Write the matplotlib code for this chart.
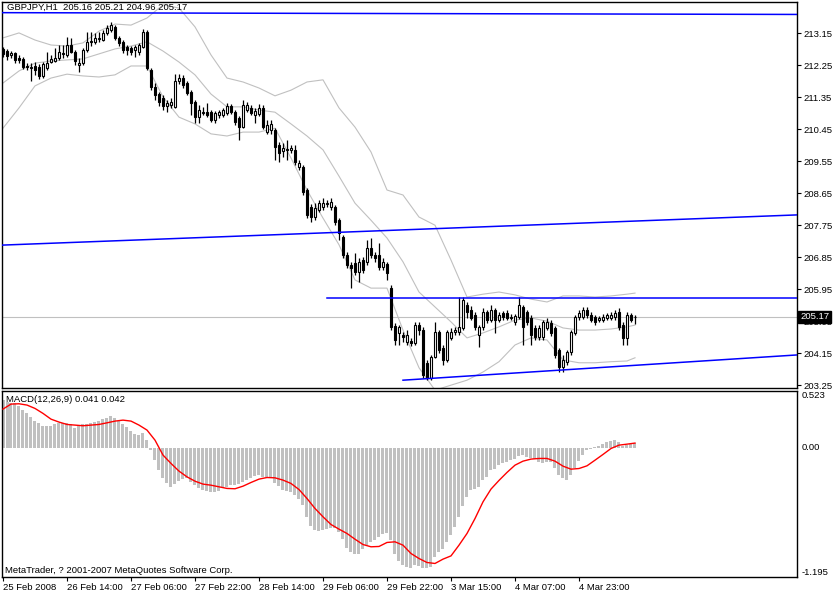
import matplotlib
matplotlib.use("Agg")
import matplotlib.pyplot as plt
import matplotlib.transforms as mtransforms
from matplotlib import font_manager
import numpy as np

# MetaTrader text is narrow; use a narrow face when there is one
names = {f.name for f in font_manager.fontManager.ttflist}
if 'Liberation Sans Narrow' in names:
    plt.rcParams['font.family'] = ['Liberation Sans Narrow', 'DejaVu Sans']
    FS = 8.0
else:
    plt.rcParams['font.family'] = ['Liberation Sans', 'DejaVu Sans']
    FS = 6.8

# hourly GBPJPY bars
opens = [212.71, 212.65, 212.54, 212.60, 212.46, 212.43, 212.23, 212.17, 212.23, 212.20,
         211.95, 212.17, 212.34, 212.37, 212.46, 212.60, 212.54, 212.82, 212.62, 212.26,
         212.31, 212.68, 212.91, 212.91, 212.99, 212.96, 213.16, 213.24, 213.33, 213.02,
         212.91, 212.76, 212.74, 212.68, 212.62, 212.76, 213.19, 212.12, 211.64, 211.44,
         211.33, 211.10, 211.13, 211.08, 211.81, 211.89, 211.75, 211.50, 211.22, 210.79,
         210.91, 210.93, 210.93, 210.71, 210.85, 210.85, 210.91, 211.10, 210.93, 210.77,
         210.51, 210.99, 211.05, 210.85, 210.88, 211.05, 210.37, 210.43, 210.43, 210.01,
         209.84, 209.87, 209.87, 209.87, 209.39, 209.39, 208.74, 208.26, 207.98, 208.18,
         208.26, 208.35, 208.26, 208.26, 207.90, 207.42, 206.91, 206.63, 206.69, 206.43,
         206.77, 206.71, 207.11, 206.91, 206.91, 206.57, 206.66, 205.98, 204.91, 204.71,
         204.66, 204.46, 204.49, 204.43, 204.94, 204.80, 203.87, 203.45, 204.04, 204.74,
         204.29, 203.95, 204.57, 204.74, 204.74, 204.86, 205.50, 205.36, 205.22, 204.66,
         204.88, 205.31, 205.08, 205.36, 205.08, 205.28, 205.28, 205.14, 205.02, 205.17,
         205.45, 205.31, 205.14, 204.86, 204.60, 204.60, 204.86, 205.00, 204.86, 204.24,
         203.76, 203.90, 204.18, 204.71, 205.17, 205.17, 205.36, 205.22, 205.17, 205.08,
         205.08, 205.14, 205.14, 205.17, 205.31, 204.94, 204.57, 205.22, 205.16]
closes = [212.57, 212.51, 212.60, 212.40, 212.40, 212.20, 212.20, 212.20, 212.12, 211.95,
          212.29, 212.31, 212.43, 212.46, 212.62, 212.57, 212.82, 212.62, 212.37, 212.31,
          212.68, 212.91, 212.93, 213.02, 213.02, 213.16, 213.30, 213.38, 213.02, 212.88,
          212.68, 212.68, 212.62, 212.76, 212.82, 213.19, 212.17, 211.64, 211.41, 211.22,
          211.10, 211.19, 211.22, 211.81, 211.89, 211.70, 211.47, 211.19, 210.79, 210.99,
          210.93, 210.85, 210.71, 210.91, 210.93, 210.99, 211.10, 210.93, 210.65, 210.51,
          211.13, 211.13, 210.91, 210.96, 211.05, 210.51, 210.57, 210.60, 209.95, 209.78,
          209.92, 209.89, 209.92, 209.53, 209.50, 208.68, 208.04, 207.98, 208.23, 208.37,
          208.37, 208.37, 208.40, 207.84, 207.53, 206.91, 206.63, 206.54, 206.43, 206.71,
          206.49, 207.11, 206.91, 206.83, 206.57, 206.71, 206.40, 204.88, 204.52, 204.88,
          204.60, 204.66, 204.43, 204.94, 204.80, 203.53, 203.45, 204.04, 204.74, 204.24,
          203.95, 204.74, 204.74, 204.80, 204.88, 205.64, 205.31, 205.14, 204.88, 204.88,
          205.31, 205.08, 205.36, 205.08, 205.22, 205.17, 205.14, 205.17, 205.19, 205.50,
          204.88, 205.02, 204.66, 204.60, 204.86, 205.02, 205.02, 204.71, 204.10, 203.76,
          203.95, 204.18, 204.74, 205.17, 205.28, 205.36, 205.22, 205.08, 205.02, 205.14,
          205.17, 205.22, 205.22, 205.28, 204.88, 204.57, 205.22, 205.08, 205.17]
highs = [212.76, 212.71, 212.65, 212.62, 212.54, 212.48, 212.31, 212.31, 212.34, 212.29,
         212.34, 212.62, 212.54, 212.74, 212.82, 212.82, 213.05, 213.02, 212.68, 212.46,
         212.74, 213.19, 213.19, 213.16, 213.19, 213.24, 213.38, 213.47, 213.38, 213.07,
         212.96, 212.82, 212.79, 212.82, 212.88, 213.27, 213.24, 212.17, 211.75, 211.50,
         211.41, 211.27, 211.33, 212.00, 212.00, 211.98, 211.81, 211.55, 211.27, 211.13,
         211.08, 211.19, 210.99, 210.96, 210.99, 211.05, 211.19, 211.16, 210.99, 210.82,
         211.27, 211.22, 211.13, 211.05, 211.16, 211.13, 210.71, 210.71, 210.48, 210.09,
         210.06, 210.15, 210.01, 210.01, 209.58, 209.44, 208.80, 208.35, 208.37, 208.46,
         208.51, 208.46, 208.51, 208.32, 207.95, 207.47, 206.99, 206.71, 206.97, 206.83,
         206.85, 207.33, 207.39, 206.99, 207.25, 206.83, 206.71, 206.07, 204.99, 204.94,
         204.74, 204.80, 204.57, 205.02, 205.02, 204.88, 203.95, 204.10, 205.02, 204.80,
         204.38, 204.80, 204.86, 204.88, 205.73, 205.73, 205.59, 205.47, 205.31, 204.94,
         205.42, 205.36, 205.50, 205.42, 205.31, 205.33, 205.36, 205.25, 205.25, 205.73,
         205.50, 205.36, 205.22, 204.94, 204.94, 205.08, 205.14, 205.08, 204.91, 204.29,
         204.10, 204.24, 204.80, 205.22, 205.36, 205.45, 205.45, 205.31, 205.22, 205.19,
         205.25, 205.28, 205.31, 205.36, 205.42, 205.02, 205.31, 205.28, 205.21]
lows = [212.48, 212.40, 212.46, 212.31, 212.31, 212.15, 212.12, 211.81, 211.98, 211.86,
        211.89, 212.12, 212.31, 212.34, 212.40, 212.46, 212.48, 212.60, 212.26, 212.06,
        212.26, 212.62, 212.79, 212.85, 212.91, 212.93, 213.10, 213.19, 212.96, 212.79,
        212.60, 212.54, 212.54, 212.48, 212.54, 212.74, 212.12, 211.55, 211.27, 211.10,
        210.99, 210.93, 211.05, 211.05, 211.72, 211.61, 211.41, 210.85, 210.62, 210.62,
        210.85, 210.79, 210.65, 210.62, 210.77, 210.79, 210.85, 210.88, 210.57, 210.15,
        210.48, 210.93, 210.85, 210.62, 210.82, 210.46, 210.32, 210.32, 209.58, 209.53,
        209.67, 209.58, 209.78, 209.44, 209.30, 208.60, 207.95, 207.84, 207.90, 208.12,
        208.18, 208.26, 208.18, 207.75, 207.33, 206.83, 206.54, 205.98, 206.35, 206.15,
        206.40, 206.63, 206.83, 206.71, 206.49, 206.49, 206.21, 204.80, 204.38, 204.38,
        204.46, 204.38, 204.35, 204.38, 204.66, 203.45, 203.39, 203.39, 204.01, 204.15,
        203.81, 203.90, 204.52, 204.66, 204.66, 204.80, 205.14, 205.08, 204.80, 204.32,
        204.80, 205.00, 205.02, 204.71, 205.02, 205.08, 205.08, 205.08, 204.94, 205.11,
        204.38, 204.94, 204.38, 204.52, 204.52, 204.52, 204.80, 204.63, 204.01, 203.62,
        203.62, 203.81, 204.10, 204.66, 205.08, 205.11, 205.14, 205.02, 204.94, 205.02,
        205.02, 205.08, 205.08, 205.08, 204.80, 204.38, 204.38, 205.02, 204.96]

# Bollinger bands, sampled every 4 bars
band_idx = list(range(0, 157, 4)) + [158]
bb_upper = [213.02, 213.16, 212.96, 212.82, 212.79, 212.88, 213.21, 213.41, 213.38, 213.58,
            213.95, 213.86, 213.33, 212.54, 211.89, 211.78, 211.61, 211.39, 211.55, 211.78,
            211.84, 211.05, 210.51, 209.81, 208.74, 208.60, 207.98, 207.75, 206.77, 205.73,
            205.81, 205.87, 205.79, 205.67, 205.59, 205.76, 205.76, 205.73, 205.76, 205.81, 205.84]
bb_middle = [211.75, 212.09, 212.31, 212.37, 212.40, 212.43, 212.57, 212.71, 212.79, 212.91,
             212.65, 212.34, 211.98, 211.44, 211.08, 211.08, 210.99, 210.93, 210.60, 210.26,
             209.87, 209.13, 208.37, 207.89, 207.39, 206.72, 205.87, 205.45, 205.03, 204.58,
             204.72, 204.89, 205.08, 205.14, 205.05, 204.86, 204.80, 204.80, 204.83, 204.89, 204.94]
bb_lower = [210.48, 211.05, 211.67, 211.89, 212.00, 211.95, 211.92, 211.98, 212.23, 212.23,
            211.36, 210.79, 210.60, 210.32, 210.26, 210.37, 210.37, 210.48, 209.64, 208.74,
            207.95, 207.20, 206.21, 205.98, 205.98, 204.80, 203.74, 203.11, 203.25, 203.39,
            203.62, 203.91, 204.38, 204.58, 204.52, 203.96, 203.88, 203.88, 203.91, 203.93, 204.02]

# MACD(12,26,9)
macd_hist = [0.439, 0.424, 0.408, 0.408, 0.387, 0.347, 0.316, 0.285, 0.245, 0.223,
             0.202, 0.202, 0.202, 0.214, 0.223, 0.229, 0.223, 0.214, 0.183, 0.202,
             0.214, 0.217, 0.229, 0.239, 0.245, 0.260, 0.276, 0.294, 0.270, 0.248,
             0.217, 0.186, 0.152, 0.122, 0.116, 0.131, 0.069, -0.023, -0.116, -0.208,
             -0.285, -0.325, -0.362, -0.340, -0.310, -0.294, -0.285, -0.316, -0.347, -0.371,
             -0.387, -0.402, -0.408, -0.408, -0.402, -0.377, -0.362, -0.347, -0.347, -0.334,
             -0.316, -0.297, -0.279, -0.263, -0.254, -0.270, -0.273, -0.285, -0.331, -0.353,
             -0.393, -0.402, -0.414, -0.439, -0.470, -0.531, -0.639, -0.722, -0.762, -0.768,
             -0.762, -0.753, -0.741, -0.747, -0.778, -0.846, -0.926, -0.963, -0.987, -0.978,
             -0.932, -0.895, -0.870, -0.849, -0.824, -0.799, -0.787, -0.855, -0.978, -1.049,
             -1.080, -1.101, -1.110, -1.086, -1.092, -1.110, -1.116, -1.101, -1.009, -0.963,
             -0.932, -0.870, -0.809, -0.732, -0.639, -0.537, -0.454, -0.393, -0.383, -0.362,
             -0.300, -0.270, -0.208, -0.193, -0.162, -0.146, -0.131, -0.116, -0.106, -0.075,
             -0.069, -0.085, -0.094, -0.106, -0.137, -0.140, -0.131, -0.131, -0.186, -0.254,
             -0.285, -0.300, -0.254, -0.186, -0.125, -0.069, -0.023, -0.014, 0.005, 0.014,
             0.029, 0.048, 0.060, 0.069, 0.048, 0.017, 0.023, 0.029, 0.041]
# signal line, sampled every 2 bars
signal_idx = list(range(0, 159, 2))
macd_signal = [0.356, 0.402, 0.405, 0.393, 0.362, 0.316, 0.263, 0.236, 0.214, 0.208,
               0.202, 0.208, 0.214, 0.229, 0.245, 0.254, 0.245, 0.208, 0.162, 0.069,
               -0.069, -0.146, -0.217, -0.270, -0.310, -0.337, -0.347, -0.362, -0.377, -0.380,
               -0.356, -0.322, -0.291, -0.276, -0.279, -0.300, -0.331, -0.387, -0.470, -0.562,
               -0.639, -0.710, -0.753, -0.793, -0.846, -0.895, -0.916, -0.913, -0.876, -0.870,
               -0.901, -0.978, -1.024, -1.061, -1.070, -1.030, -1.000, -0.901, -0.793, -0.655,
               -0.501, -0.383, -0.303, -0.229, -0.162, -0.125, -0.106, -0.100, -0.100, -0.125,
               -0.171, -0.199, -0.193, -0.168, -0.116, -0.063, -0.008, 0.023, 0.032, 0.042]

# trend lines drawn on the chart: (bar, price) -> (bar, price)
trend_lines = [
    ((-0.25, 213.73), (198.5, 213.68)),
    ((-0.25, 207.19), (198.5, 208.04)),
    ((81, 205.69), (198.5, 205.69)),
    ((100, 203.39), (198.5, 204.10)),
]
last_price = 205.17

price_ticks = [213.15, 212.25, 211.35, 210.45, 209.55, 208.65, 207.75, 206.85, 205.95, 205.05, 204.15, 203.25]
date_pos = [0, 16, 32, 48, 64, 80, 96, 112, 128, 144]
date_labels = ["25 Feb 2008", "26 Feb 14:00", "27 Feb 06:00", "27 Feb 22:00", "28 Feb 14:00",
               "29 Feb 06:00", "29 Feb 22:00", "3 Mar 15:00", "4 Mar 07:00", "4 Mar 23:00"]

W, H = 835, 594
fig = plt.figure(figsize=(W / 100, H / 100), dpi=100)
ax = fig.add_axes([2 / W, 1 - 388 / H, 795 / W, 386 / H])
ax2 = fig.add_axes([2 / W, 1 - 577 / H, 795 / W, 186 / H])

idx = np.arange(len(closes))
o = np.array(opens)
c = np.array(closes)
hi = np.array(highs)
lo = np.array(lows)
up = c >= o
body_bottom = np.minimum(o, c)
body_h = np.abs(c - o)

gray = '#c0c0c0'
ax.plot(band_idx, bb_upper, color=gray, lw=0.8, zorder=1)
ax.plot(band_idx, bb_middle, color=gray, lw=0.8, zorder=1)
ax.plot(band_idx, bb_lower, color=gray, lw=0.8, zorder=1)
ax.axhline(last_price, color=gray, lw=0.8, zorder=1)

ax.vlines(idx, lo, hi, color='black', lw=0.9, zorder=3)
ax.bar(idx[up], body_h[up], bottom=body_bottom[up], width=0.7,
       facecolor='white', edgecolor='black', linewidth=0.8, zorder=4)
ax.bar(idx[~up], body_h[~up], bottom=body_bottom[~up], width=0.7,
       facecolor='black', edgecolor='black', linewidth=0.8, zorder=4)

for (x0, y0), (x1, y1) in trend_lines:
    ax.plot([x0, x1], [y0, y1], color='#0000ff', lw=1.1, zorder=5)

ax.set_xlim(-0.25, 198.5)
ax.set_ylim(203.17, 214.03)
ax.yaxis.tick_right()
ax.set_yticks(price_ticks)
ax.set_yticklabels([f"{t:.2f}" for t in price_ticks])
ax.tick_params(axis='y', direction='out', length=3, pad=2, labelsize=FS, width=0.8)
ax.set_xticks([])

trans = mtransforms.blended_transform_factory(ax.transAxes, ax.transData)
ax.text(1.004, last_price, f"{last_price:.2f}", transform=trans, va='center', ha='left',
        color='white', fontsize=FS, zorder=10,
        bbox=dict(facecolor='black', edgecolor='black', pad=1.2))

# MACD panel
ax2.bar(idx, macd_hist, width=0.75, color=gray, zorder=2)
ax2.plot(signal_idx, macd_signal, color='red', lw=1, zorder=3)
ax2.set_xlim(-0.25, 198.5)
ax2.set_ylim(-1.195, 0.523)
ax2.set_yticks([])
trans2 = mtransforms.blended_transform_factory(ax2.transAxes, ax2.transData)
ax2.text(1.006, 0.523, "0.523", transform=trans2, va='top', ha='left', fontsize=FS)
ax2.text(1.006, 0.0, "0.00", transform=trans2, va='center', ha='left', fontsize=FS)
ax2.text(1.006, -1.195, "-1.195", transform=trans2, va='bottom', ha='left', fontsize=FS)
ax2.set_xticks(date_pos)
ax2.set_xticklabels(date_labels, ha='left')
ax2.tick_params(axis='x', direction='out', length=3, pad=1.5, labelsize=FS, width=0.8)

for a in (ax, ax2):
    for s in a.spines.values():
        s.set_linewidth(1)
        s.set_color('black')

fig.text(7 / W, 1 - 3 / H, "GBPJPY,H1  205.16 205.21 204.96 205.17", va='top', ha='left', fontsize=FS)
fig.text(6 / W, 1 - 395 / H, "MACD(12,26,9) 0.041 0.042", va='top', ha='left', fontsize=FS)
fig.text(5 / W, 1 - 575 / H, "MetaTrader, ? 2001-2007 MetaQuotes Software Corp.", va='bottom',
         ha='left', fontsize=FS)

fig.savefig("out.png", dpi=100)
